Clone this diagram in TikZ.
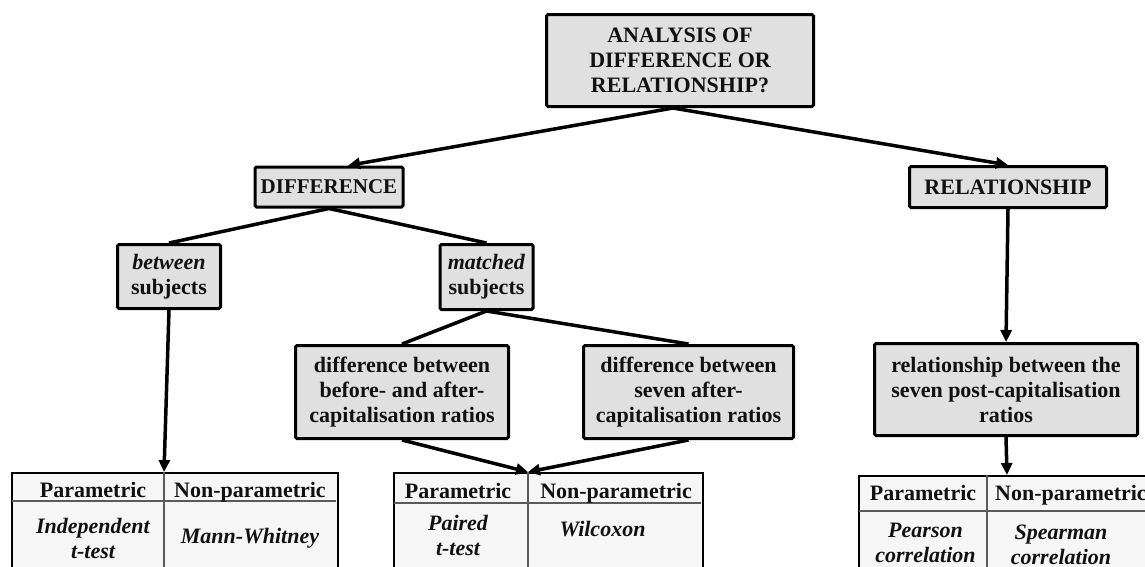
\documentclass[tikz,border=0pt]{standalone}
\usepackage{fontspec}
\setmainfont{Liberation Serif}
\usetikzlibrary{arrows.meta,calc}
\definecolor{boxfill}{HTML}{E0E0E0}
\definecolor{tabfill}{HTML}{F6F6F6}
\definecolor{ink}{HTML}{111111}
\definecolor{gridgray}{HTML}{5A5A5A}

\begin{document}
\begin{tikzpicture}[x=1pt,y=-1pt,
  every node/.style={font=\fontsize{22}{25}\selectfont\bfseries, text=ink},
  box/.style={draw=black, line width=3pt, fill=boxfill, rounded corners=1.5pt,
              inner sep=0pt, align=center},
  tab/.style={draw=black, line width=2pt, fill=tabfill, inner sep=0pt},
  grid/.style={draw=gridgray, line width=1.5pt},
  cell/.style={inner sep=0pt, align=center},
  cellit/.style={inner sep=0pt, align=center,
                 font=\fontsize{22}{25}\selectfont\bfseries\itshape},
  arrow/.style={draw=black, line width=3.5pt,
                -{Triangle[length=12pt,width=11pt]}},
  plainline/.style={draw=black, line width=3.5pt},
]
\useasboundingbox (0,0) rectangle (1145,566);
\begin{scope}
\clip (0,0) rectangle (1145,566);

% decision boxes
\node[box, minimum width=267, minimum height=92] (top) at (680,60.5)
  {ANALYSIS OF\\DIFFERENCE OR\\RELATIONSHIP?};
\node[box, minimum width=148, minimum height=40,
      font=\fontsize{21}{24}\selectfont\bfseries] (diff) at (329,187) {DIFFERENCE};
\node[box, minimum width=197, minimum height=41] (rel) at (1008,187) {RELATIONSHIP};
\node[box, minimum width=103, minimum height=64] (betw) at (169,276.5)
  {\textit{between}\\subjects};
\node[box, minimum width=93, minimum height=65] (match) at (486.5,277)
  {\textit{matched}\\subjects};
\node[box, minimum width=213, minimum height=93] (bda) at (402,392)
  {difference between\\before- and after-\\capitalisation ratios};
\node[box, minimum width=210, minimum height=93] (seven) at (688.5,392)
  {difference between\\seven after-\\capitalisation ratios};
\node[box, minimum width=263, minimum height=92] (post) at (1006,389.5)
  {relationship between the\\seven post-capitalisation\\ratios};

% test tables
\node[tab, minimum width=326, minimum height=150, anchor=north west] (t1) at (11,472) {};
\coordinate (t1in) at (164,472);
\draw[grid] (12,501) -- (336,501);
\draw[grid] (t1in) -- (164,620);
\node[cell, anchor=base] (t1p) at (93,497.5) {Parametric};
\node[cell, anchor=base] (t1n) at (250,497.5) {Non-parametric};
\node[cellit] (t1a) at (93,538) {Independent\\t-test};
\node[cellit, anchor=base] (t1b) at (250,543) {Mann-Whitney};

\node[tab, minimum width=309, minimum height=150, anchor=north west] (t2) at (393,472) {};
\coordinate (t2in) at (528,472);
\draw[grid] (394,503) -- (701,503);
\draw[grid] (t2in) -- (528,620);
\node[cell, anchor=base] (t2p) at (458,498) {Parametric};
\node[cell, anchor=base] (t2n) at (616,498) {Non-parametric};
\node[cellit] (t2a) at (458,535) {Paired\\t-test};
\node[cellit, anchor=base] (t2b) at (602.5,536.7) {Wilcoxon};

\node[tab, minimum width=310, minimum height=150, anchor=north west] (t3) at (858,475) {};
\coordinate (t3in) at (1007,475);
\draw[grid, line width=2.5pt] (859,511) -- (1167,511);
\draw[grid] (987,475) -- (987,620);
\node[cell, anchor=base] (t3p) at (923,500) {Parametric};
\node[cell, anchor=base west] (t3n) at (995,500) {Non-parametric};
\node[cellit] (t3a) at (925.5,543) {Pearson\\correlation};
\node[cellit] (t3b) at (1061,545) {Spearman\\correlation};

% connectors
\coordinate (split) at ($(top.south)+(-7,0)$);
\draw[arrow] (split) -- ($(diff.north)+(19,0)$);
\draw[arrow] (split) -- (rel.north);
\draw[plainline] (diff.south) -- (betw.north);
\draw[plainline] (diff.south) -- (match.north);
\draw[plainline] (match.south) -- (bda.north);
\draw[plainline] (match.south) -- (seven.north);
\draw[arrow] (betw.south) -- (t1in);
\draw[arrow] (bda.south) -- (t2in);
\draw[arrow] (seven.south) -- (t2in);
\draw[arrow] (rel.south) -- (post.north);
\draw[arrow] (post.south) -- (t3in);
\end{scope}
\end{tikzpicture}
\end{document}
